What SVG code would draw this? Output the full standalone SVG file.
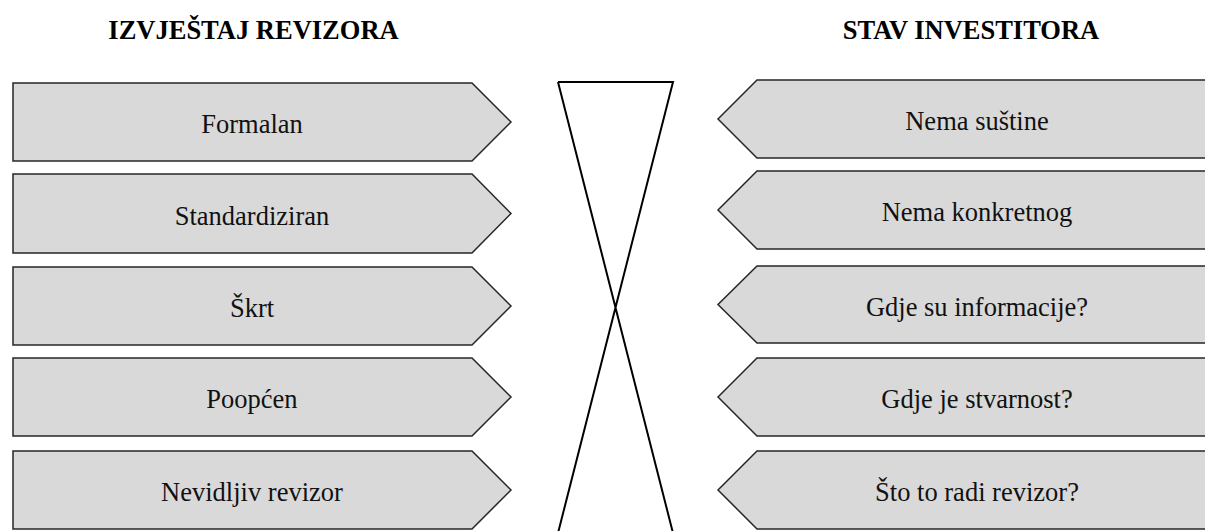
<svg xmlns="http://www.w3.org/2000/svg" width="1205" height="531" viewBox="0 0 1205 531">
<style>
.box{fill:#d9d9d9;stroke:#262626;stroke-width:1.5;stroke-linejoin:miter}
.lbl{font-family:"Liberation Serif","Times New Roman",serif;font-size:26.5px;fill:#111;text-anchor:middle}
.ttl{font-family:"Liberation Serif","Times New Roman",serif;font-size:26.5px;font-weight:bold;fill:#000;text-anchor:middle}
.hg{fill:none;stroke:#000;stroke-width:2}
</style>
<rect width="1205" height="531" fill="#fff"/>
<text class="ttl" x="253.5" y="39">IZVJEŠTAJ REVIZORA</text>
<text class="ttl" x="971" y="39">STAV INVESTITORA</text>
<g id="connectors">
<path class="hg" d="M558,82 H673 L557,537 M558,82 L674,537"/>
</g>
<g id="l1"><path class="box" d="M13,83 H472 L511,122 L472,161 H13 Z"/><text class="lbl" x="252" y="133">Formalan</text></g>
<g id="l2"><path class="box" d="M13,174 H472 L511,213.5 L472,253 H13 Z"/><text class="lbl" x="252" y="224.5">Standardiziran</text></g>
<g id="l3"><path class="box" d="M13,267 H472 L511,306 L472,345 H13 Z"/><text class="lbl" x="252" y="317">Škrt</text></g>
<g id="l4"><path class="box" d="M13,358 H472 L511,397 L472,436 H13 Z"/><text class="lbl" x="252" y="408">Poopćen</text></g>
<g id="l5"><path class="box" d="M13,451 H472 L511,490 L472,529 H13 Z"/><text class="lbl" x="252" y="501">Nevidljiv revizor</text></g>
<g id="r1"><path class="box" d="M1210,80 H757 L718,119 L757,158 H1210"/><text class="lbl" x="977" y="130">Nema suštine</text></g>
<g id="r2"><path class="box" d="M1210,171 H757 L718,210 L757,249 H1210"/><text class="lbl" x="977" y="221">Nema konkretnog</text></g>
<g id="r3"><path class="box" d="M1210,266 H757 L718,304.5 L757,343 H1210"/><text class="lbl" x="977" y="315.5">Gdje su informacije?</text></g>
<g id="r4"><path class="box" d="M1210,358 H757 L718,397 L757,436 H1210"/><text class="lbl" x="977" y="408">Gdje je stvarnost?</text></g>
<g id="r5"><path class="box" d="M1210,451 H757 L718,490 L757,529 H1210"/><text class="lbl" x="977" y="501">Što to radi revizor?</text></g>
</svg>
